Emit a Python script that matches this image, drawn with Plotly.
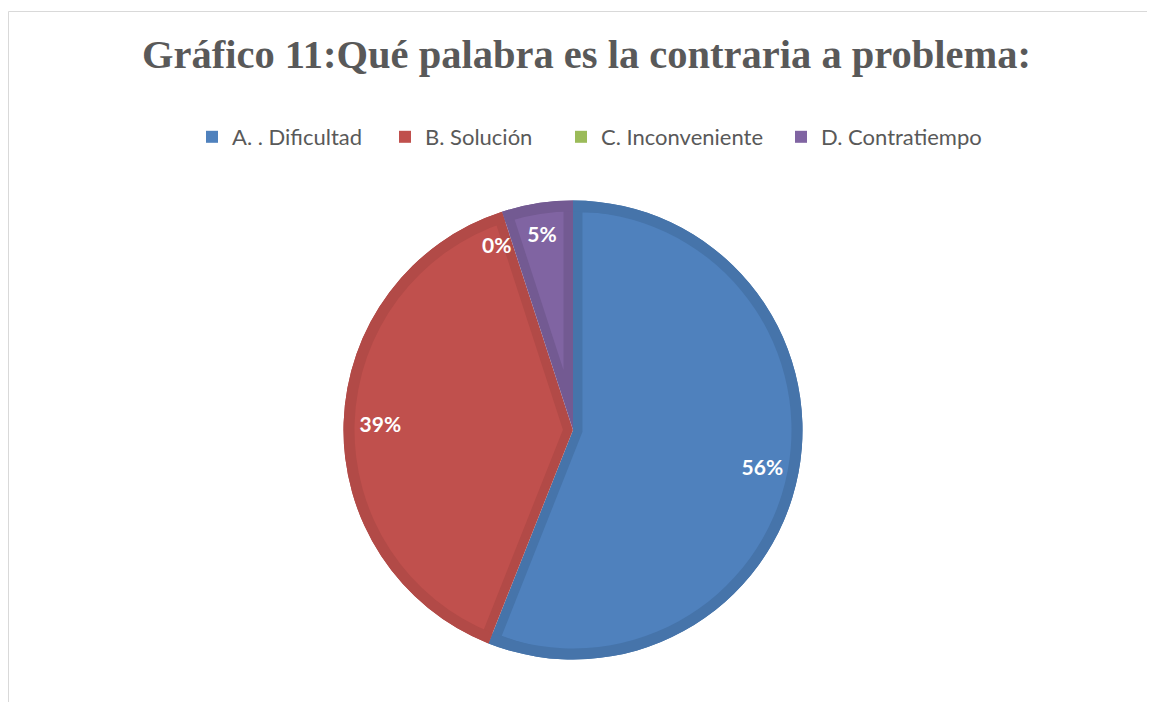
import math
import plotly.graph_objects as go

# ---- data ----
categories = ["A. . Dificultad", "B. Solución", "C. Inconveniente", "D. Contratiempo"]
values = [56, 39, 0, 5]
title_text = "Gráfico 11:Qué palabra es la contraria a problema:"

# ---- style ----
fill_colors = ["#4F81BD", "#C0504D", "#9BBB59", "#8064A2"]
edge_colors = ["#4674AA", "#B24A47", "#8CA850", "#735A92"]
W, H = 1155, 702
OFF = 8  # page body margin
CX, CY, R = 573 - OFF, 430 - OFF, 229.5
W_OUT, W_RAD = 11, 9.5
LABEL_FONT = "Lato"
legend_square_x = [209, 402, 578, 798]  # page pixels, left edge of legend squares
n = len(values)
total = sum(values)
CLEAR = "rgba(0,0,0,0)"


def dom(D):
    return dict(x=[(CX - D / 2) / W, (CX + D / 2) / W],
                y=[1 - (CY + D / 2) / H, 1 - (CY - D / 2) / H])


common = dict(labels=categories, values=values, sort=False, direction="clockwise",
              rotation=0, hoverinfo="skip")

fig = go.Figure()
# legend swatches (no data), one legend box per category
legend_names = ["legend" if i == 0 else f"legend{i + 1}" for i in range(n)]
for i in range(n):
    fig.add_trace(go.Scatter(x=[None], y=[None], mode="markers", name=categories[i],
                             marker=dict(symbol="square", size=12, color=fill_colors[i],
                                         line=dict(width=0)),
                             hoverinfo="skip", legendgroup=f"g{i}",
                             showlegend=True, legend=legend_names[i]))
# dark base (slice outlines)
fig.add_trace(go.Pie(**common, domain=dom(2 * R), textinfo="none",
                     marker=dict(colors=edge_colors, line=dict(width=0)), showlegend=False))
# lighter inner part of each slice, inset from the radial edges
for i, v in enumerate(values):
    if v <= 0:
        continue
    half = math.pi * v / total
    d = W_RAD / math.sin(half)
    rr = R - 0.5 - d
    pull = [0.0] * n
    pull[i] = d / rr
    cols = [CLEAR] * n
    cols[i] = fill_colors[i]
    fig.add_trace(go.Pie(**common, domain=dom(2 * (R - 0.5)), pull=pull, textinfo="none",
                         marker=dict(colors=cols, line=dict(width=0)), showlegend=False))
# dark outer ring
fig.add_trace(go.Pie(**common, domain=dom(2 * R), hole=(R - W_OUT) / R, textinfo="none",
                     marker=dict(colors=edge_colors, line=dict(width=0)), showlegend=False))
# percentage labels
fig.add_trace(go.Pie(**common, domain=dom(2 * R), hole=0.68,
                     texttemplate="%{percent:.0%}", textposition="inside",
                     insidetextorientation="horizontal",
                     textfont=dict(family=LABEL_FONT, size=21, color="white", weight="bold"),
                     marker=dict(colors=[CLEAR] * n, line=dict(width=0)), showlegend=False))

# labels for empty slices
annotations = []
cum = 0
for i, v in enumerate(values):
    a = math.radians(cum / total * 360)
    cum += v
    if v == 0:
        rho = 0.865 * R
        annotations.append(dict(
            x=(CX + rho * math.sin(a)) / W, y=1 - (CY - rho * math.cos(a)) / H,
            xref="paper", yref="paper", xanchor="center", yanchor="middle",
            text=f"{round(v / total * 100)}%", showarrow=False,
            xshift=-15, yshift=-3,
            font=dict(family=LABEL_FONT, size=21, color="white", weight="bold")))

layout_legends = {}
for i, name in enumerate(legend_names):
    layout_legends[name] = dict(
        orientation="h", x=(legend_square_x[i] - 2 - 15 - OFF) / W, xanchor="left",
        y=1 - (137 - OFF) / H, yanchor="middle", bgcolor=CLEAR, visible=True,
        font=dict(family=LABEL_FONT, size=22, color="#595959"))

fig.update_layout(
    width=W, height=H,
    margin=dict(l=0, r=0, t=0, b=0),
    paper_bgcolor="white", plot_bgcolor="white", showlegend=True,
    xaxis=dict(visible=False), yaxis=dict(visible=False),
    title=dict(text=title_text, x=(586.5 - OFF) / W, y=1 - (54 - OFF) / H,
               xanchor="center", yanchor="middle",
               font=dict(family="Liberation Serif", size=40.5, color="#595959", weight="bold")),
    annotations=annotations,
    shapes=[dict(type="rect", xref="paper", yref="paper",
                 x0=0.5 / W, x1=1.02, y0=-0.02, y1=1 - (11.5 - OFF) / H,
                 line=dict(color="#D9D9D9", width=1), fillcolor=CLEAR, layer="below")],
    **layout_legends,
)

fig.write_html("out.html")
